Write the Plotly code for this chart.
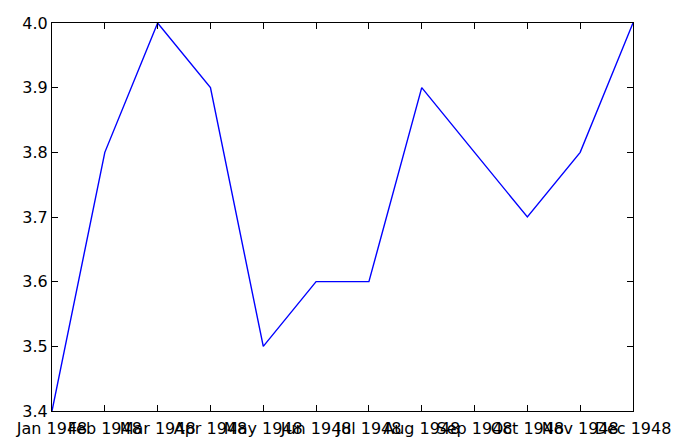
import plotly.graph_objects as go

months = ["Jan 1948", "Feb 1948", "Mar 1948", "Apr 1948", "May 1948", "Jun 1948",
          "Jul 1948", "Aug 1948", "Sep 1948", "Oct 1948", "Nov 1948", "Dec 1948"]
values = [3.4, 3.8, 4.0, 3.9, 3.5, 3.6, 3.6, 3.9, 3.8, 3.7, 3.8, 4.0]
y_ticks = [3.4, 3.5, 3.6, 3.7, 3.8, 3.9, 4.0]

fig = go.Figure(go.Scatter(x=list(range(len(months))), y=values, mode="lines",
                           line=dict(color="#0000ff", width=1.4)))

axis_common = dict(showline=True, linecolor="black", linewidth=1.2, mirror="ticks",
                   ticks="inside", ticklen=6, tickcolor="black", showgrid=False,
                   zeroline=False, automargin=False,
                   tickfont=dict(family="DejaVu Sans", size=16, color="black"))

fig.update_xaxes(range=[0, 11], tickvals=list(range(len(months))), ticktext=months,
                 tickangle=0, ticklabelstandoff=3, **axis_common)
fig.update_yaxes(range=[3.4, 4.0], tickvals=y_ticks, ticktext=[f"{v:.1f}" for v in y_ticks],
                 **axis_common)
fig.update_layout(width=678, height=438, margin=dict(l=44, r=53, t=15, b=35),
                  plot_bgcolor="white", paper_bgcolor="white", showlegend=False)
fig.write_html("out.html")
